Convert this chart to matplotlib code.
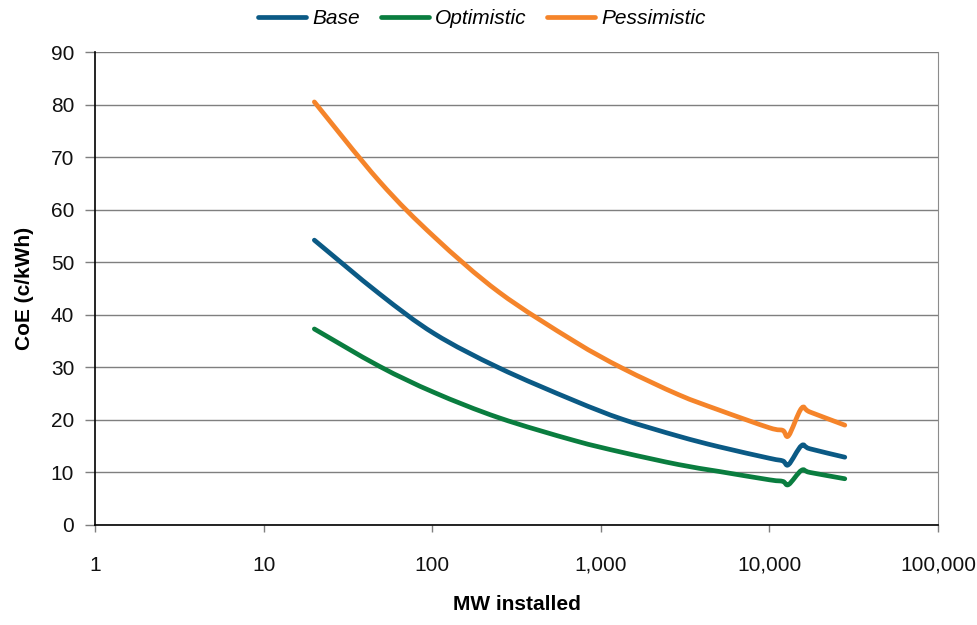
import matplotlib
matplotlib.use("Agg")
import numpy as np
import matplotlib.pyplot as plt
from matplotlib.ticker import FixedLocator, FuncFormatter, NullLocator
from matplotlib import font_manager
from matplotlib.path import Path
from matplotlib.patches import PathPatch
from matplotlib.lines import Line2D

mw = [20, 48.6, 103, 249, 692, 1350, 2890, 5000, 10000, 12000, 13000, 15500, 17400, 28000]
base = [54.2, 44.0, 36.4, 29.9, 23.7, 20.1, 16.9, 14.9, 12.7, 12.2, 11.5, 15.1, 14.5, 12.9]
optimistic = [37.3, 30.2, 25.2, 20.4, 16.1, 13.8, 11.5, 10.2, 8.6, 8.3, 7.7, 10.4, 10.0, 8.8]
pessimistic = [80.5, 65.4, 54.8, 44.3, 35.0, 29.8, 24.8, 21.9, 18.5, 18.0, 17.0, 22.2, 21.5, 19.0]

series_names = ["Base", "Optimistic", "Pessimistic"]
series_colors = ["#0B5A85", "#0A7D3F", "#F5842A"]

x_ticks = [1, 10, 100, 1000, 10000, 100000]
y_ticks = [0, 10, 20, 30, 40, 50, 60, 70, 80, 90]

avail = {f.name for f in font_manager.fontManager.ttflist}
narrow = None
for cand in ["Liberation Sans Narrow", "Arial Narrow", "DejaVu Sans Condensed"]:
    if cand in avail:
        narrow = cand
        break
if narrow is None:
    narrow = "Liberation Sans"
plt.rcParams["font.family"] = [narrow, "DejaVu Sans"]

fig = plt.figure(figsize=(9.78, 6.25), dpi=100)
ax = fig.add_axes([95/978, 1-525/625, (938-95)/978, (525-52)/625])
ax.set_xscale("log")
ax.set_xlim(1, 100000)
ax.set_ylim(0, 90)


def smooth_path(xs, ys, t=1/6):
    # Excel-like smoothed line: cubic Bezier segments (Catmull-Rom control
    # points) computed in log-x space and mapped back to data space.
    lx = np.log10(np.asarray(xs, float))
    y = np.asarray(ys, float)
    n = len(lx)
    verts = [(10 ** lx[0], y[0])]
    codes = [Path.MOVETO]
    for i in range(n - 1):
        p0 = (lx[i - 1], y[i - 1]) if i > 0 else (lx[i], y[i])
        p1 = (lx[i], y[i])
        p2 = (lx[i + 1], y[i + 1])
        p3 = (lx[i + 2], y[i + 2]) if i + 2 < n else (lx[i + 1], y[i + 1])
        c1 = (p1[0] + (p2[0] - p0[0]) * t, p1[1] + (p2[1] - p0[1]) * t)
        c2 = (p2[0] - (p3[0] - p1[0]) * t, p2[1] - (p3[1] - p1[1]) * t)
        for c in (c1, c2, p2):
            verts.append((10 ** c[0], c[1]))
            codes.append(Path.CURVE4)
    return Path(verts, codes)


handles = []
for vals, name, col in zip([base, optimistic, pessimistic], series_names, series_colors):
    patch = PathPatch(smooth_path(mw, vals), facecolor="none", edgecolor=col, lw=3.4,
                      capstyle="round", joinstyle="round", zorder=3)
    ax.add_patch(patch)
    handles.append(Line2D([], [], color=col, lw=3.4, solid_capstyle="round", label=name))

ax.xaxis.set_major_locator(FixedLocator(x_ticks))
ax.xaxis.set_minor_locator(NullLocator())
ax.xaxis.set_major_formatter(FuncFormatter(lambda v, p: f"{int(round(v)):,}"))
ax.set_yticks(y_ticks)

ax.yaxis.grid(True, color="#7f7f7f", lw=1.0)
ax.set_axisbelow(True)
ax.spines["top"].set_visible(False)
ax.spines["right"].set_color("#8c8c8c")
ax.spines["left"].set_color("black")
ax.spines["bottom"].set_color("black")
ax.spines["left"].set_linewidth(1.2)
ax.spines["bottom"].set_linewidth(1.2)

ax.tick_params(axis="y", direction="out", length=7, width=1, colors="#7f7f7f", labelcolor="#111111", labelsize=15, pad=8)
ax.tick_params(axis="x", direction="out", length=5, width=1, colors="#7f7f7f", labelcolor="#111111", labelsize=15, pad=17)

ax.set_ylabel("CoE (c/kWh)", fontsize=15, fontweight="bold", labelpad=12)
ax.set_xlabel("MW installed", fontsize=15, fontweight="bold", labelpad=15)

fig.legend(handles=handles, loc="center", bbox_to_anchor=(482/978, 1-19/625), ncol=3, frameon=False,
           prop={"style": "italic", "size": 15}, handlelength=2.3, handletextpad=0.3, columnspacing=1.0)

fig.savefig("out.png", dpi=100)
